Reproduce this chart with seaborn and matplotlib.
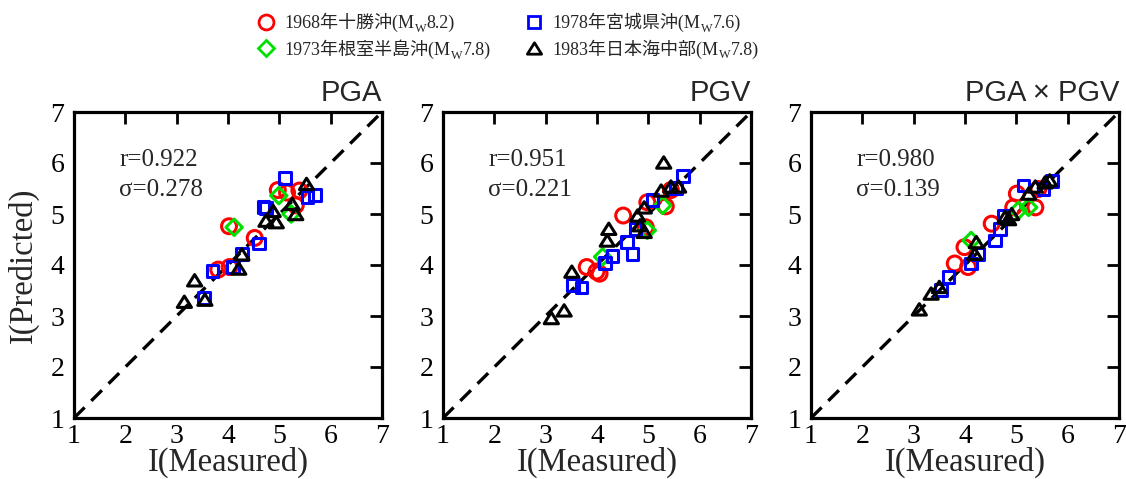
import numpy as np
import pandas as pd
import matplotlib
matplotlib.use("Agg")
import matplotlib.pyplot as plt
from matplotlib.lines import Line2D
from matplotlib.path import Path
from matplotlib.font_manager import FontProperties
import seaborn as sns

# ---------------- data ----------------
events = ["1968年十勝沖", "1973年根室半島沖", "1978年宮城県沖", "1983年日本海中部"]
mags = ["8.2", "7.8", "7.6", "7.8"]
panel_titles = ["PGA", "PGV", "PGA × PGV"]
r_values = ["0.922", "0.951", "0.980"]
sigma_values = ["0.278", "0.221", "0.139"]
ticks = [1, 2, 3, 4, 5, 6, 7]

# PGA panel: (measured, predicted)
pga_1968_x = [4.02, 4.52, 3.81, 4.03, 4.97, 5.15, 5.39, 5.32]
pga_1968_y = [4.76, 4.53, 3.91, 3.96, 5.47, 5.42, 5.46, 5.17]
pga_1973_x = [4.12, 4.99, 5.23]
pga_1973_y = [4.74, 5.36, 5.00]
pga_1978_x = [5.11, 5.55, 5.69, 4.69, 4.74, 4.61, 4.28, 3.70, 4.10, 3.54]
pga_1978_y = [5.71, 5.33, 5.38, 5.13, 5.12, 4.42, 4.21, 3.88, 3.96, 3.36]
pga_1983_x = [5.53, 5.25, 5.32, 4.88, 4.74, 4.94, 4.27, 4.21, 3.35, 3.15, 3.55]
pga_1983_y = [5.59, 5.20, 5.00, 5.06, 4.87, 4.84, 4.21, 3.93, 3.70, 3.28, 3.32]

# PGV panel
pgv_1968_x = [4.51, 3.80, 3.99, 4.05, 4.98, 4.95, 5.34, 5.44]
pgv_1968_y = [4.97, 3.96, 3.87, 3.83, 5.23, 4.74, 5.15, 5.47]
pgv_1973_x = [4.11, 4.98, 5.28]
pgv_1973_y = [4.16, 4.68, 5.17]
pgv_1978_x = [5.67, 5.54, 5.08, 4.75, 4.59, 4.69, 4.30, 4.16, 3.53, 3.70]
pgv_1978_y = [5.75, 5.51, 5.27, 4.71, 4.45, 4.21, 4.17, 4.04, 3.61, 3.56]
pgv_1983_x = [5.30, 3.51, 3.11, 3.36, 4.23, 4.20, 4.79, 4.84, 4.92, 4.92, 5.25, 5.44, 5.59]
pgv_1983_y = [6.01, 3.87, 2.96, 3.11, 4.71, 4.48, 4.97, 4.78, 4.65, 5.13, 5.46, 5.54, 5.54]

# PGA x PGV panel
pp_1968_x = [5.01, 5.43, 4.94, 5.37, 4.52, 3.99, 3.80, 4.06]
pp_1968_y = [5.40, 5.49, 5.13, 5.13, 4.81, 4.35, 4.03, 3.96]
pp_1973_x = [4.12, 5.24, 5.04]
pp_1973_y = [4.48, 5.13, 5.07]
pp_1978_x = [5.69, 5.53, 5.14, 4.75, 4.68, 4.58, 4.25, 4.12, 3.68, 3.54]
pp_1978_y = [5.64, 5.49, 5.56, 4.97, 4.71, 4.48, 4.21, 4.03, 3.77, 3.51]
pp_1983_x = [3.11, 3.34, 3.50, 4.22, 4.19, 4.78, 4.91, 4.85, 5.24, 5.37, 5.56, 5.65]
pp_1983_y = [3.13, 3.44, 3.57, 4.45, 4.22, 4.94, 5.00, 4.90, 5.40, 5.54, 5.62, 5.66]

panels = [
    [(pga_1968_x, pga_1968_y), (pga_1973_x, pga_1973_y), (pga_1978_x, pga_1978_y), (pga_1983_x, pga_1983_y)],
    [(pgv_1968_x, pgv_1968_y), (pgv_1973_x, pgv_1973_y), (pgv_1978_x, pgv_1978_y), (pgv_1983_x, pgv_1983_y)],
    [(pp_1968_x, pp_1968_y), (pp_1973_x, pp_1973_y), (pp_1978_x, pp_1978_y), (pp_1983_x, pp_1983_y)],
]

# ---------------- style ----------------
colors = ["#ff0000", "#00e000", "#0000ff", "#000000"]
wide_tri = Path([(0, 0.8), (-1, -0.8), (1, -0.8), (0, 0.8)],
                [Path.MOVETO, Path.LINETO, Path.LINETO, Path.CLOSEPOLY])
markers = ["o", "D", "s", wide_tri]
sizes = [115, 70, 72, 105]
FAM = ["Liberation Serif", "Noto Sans CJK JP", "DejaVu Sans"]

sns.set_theme(style="white")
plt.rcParams["font.family"] = FAM
plt.rcParams["axes.unicode_minus"] = False

W, H = 1126, 479
fig = plt.figure(figsize=(W / 100, H / 100), dpi=100)
lefts = [74, 443, 811]
ax_w, ax_top, ax_bot = 308, 112, 418

for i, left in enumerate(lefts):
    ax = fig.add_axes([left / W, (H - ax_bot) / H, ax_w / W, (ax_bot - ax_top) / H])
    ax.plot([1, 7], [1, 7], color="black", lw=2.4, ls=(0, (4.5, 2.8)), zorder=1)
    for j in range(4):
        xs, ys = panels[i][j]
        df = pd.DataFrame({"measured": xs, "predicted": ys})
        sns.scatterplot(data=df, x="measured", y="predicted", ax=ax, marker=markers[j],
                        s=sizes[j], color=colors[j], facecolor="none", edgecolor=colors[j],
                        linewidth=2.2, zorder=3 + j, legend=False)
    ax.set_xlim(1, 7)
    ax.set_ylim(1, 7)
    ax.set_xticks(ticks)
    ax.set_yticks(ticks)
    ax.set_xticklabels([str(t) for t in ticks])
    ax.set_yticklabels([str(t) for t in ticks])
    ax.tick_params(direction="in", length=8.5, width=2.0, top=True, right=True,
                   labelsize=20, colors="black")
    ax.tick_params(axis="x", pad=4)
    ax.tick_params(axis="y", pad=7)
    for sp in ax.spines.values():
        sp.set_linewidth(2.3)
        sp.set_color("black")
    ax.set_xlabel("I(Measured)", fontsize=23.5, labelpad=-1)
    ax.set_ylabel("I(Predicted)" if i == 0 else "", fontsize=23.5, labelpad=8)
    ax.set_title(panel_titles[i], loc="right", fontsize=21, family="Liberation Sans", pad=8)
    ax.text(1.88, 5.95, f"r={r_values[i]}", fontsize=18, ha="left", va="baseline")
    ax.text(1.88, 5.36, f"σ={sigma_values[i]}", fontsize=18, ha="left", va="baseline")
    ax.grid(False)

# ---------------- legend (subscript W appended as separate text) ----------------
LFS = 13.0
handles = [Line2D([], [], ls="none", marker=markers[j], markersize=np.sqrt(sizes[j]),
                  markerfacecolor="none", markeredgecolor=colors[j], markeredgewidth=2.0)
           for j in range(4)]
labels = [f"{events[j]}(M" for j in range(4)]
leg = fig.legend(handles, labels, ncol=2, loc="upper left",
                 bbox_to_anchor=(244 / W, 1 + 0 / H),
                 frameon=False, fontsize=LFS, handlelength=1.0, handletextpad=0.55,
                 columnspacing=4.1, labelspacing=0.4, borderpad=0.2)

fig.canvas.draw()
rend = fig.canvas.get_renderer()
fp = FontProperties(family=FAM, size=LFS)
px = LFS * 100 / 72.0
for t, mag in zip(leg.get_texts(), mags):
    bb = t.get_window_extent(rend)
    _, _, d_line = rend.get_text_width_height_descent(t.get_text(), fp, ismath=False)
    _, _, d_lp = rend.get_text_width_height_descent("lp", fp, ismath=False)
    base = bb.y0 + max(d_line, d_lp)
    tw = fig.text(bb.x1 / W, (base - 0.22 * px) / H, "W", fontsize=LFS * 0.68,
                  ha="left", va="baseline", family=FAM)
    bw = tw.get_window_extent(rend)
    fig.text((bw.x1 + 0.5) / W, base / H, f"{mag})", fontsize=LFS,
             ha="left", va="baseline", family=FAM)

fig.savefig("out.png", dpi=100)
